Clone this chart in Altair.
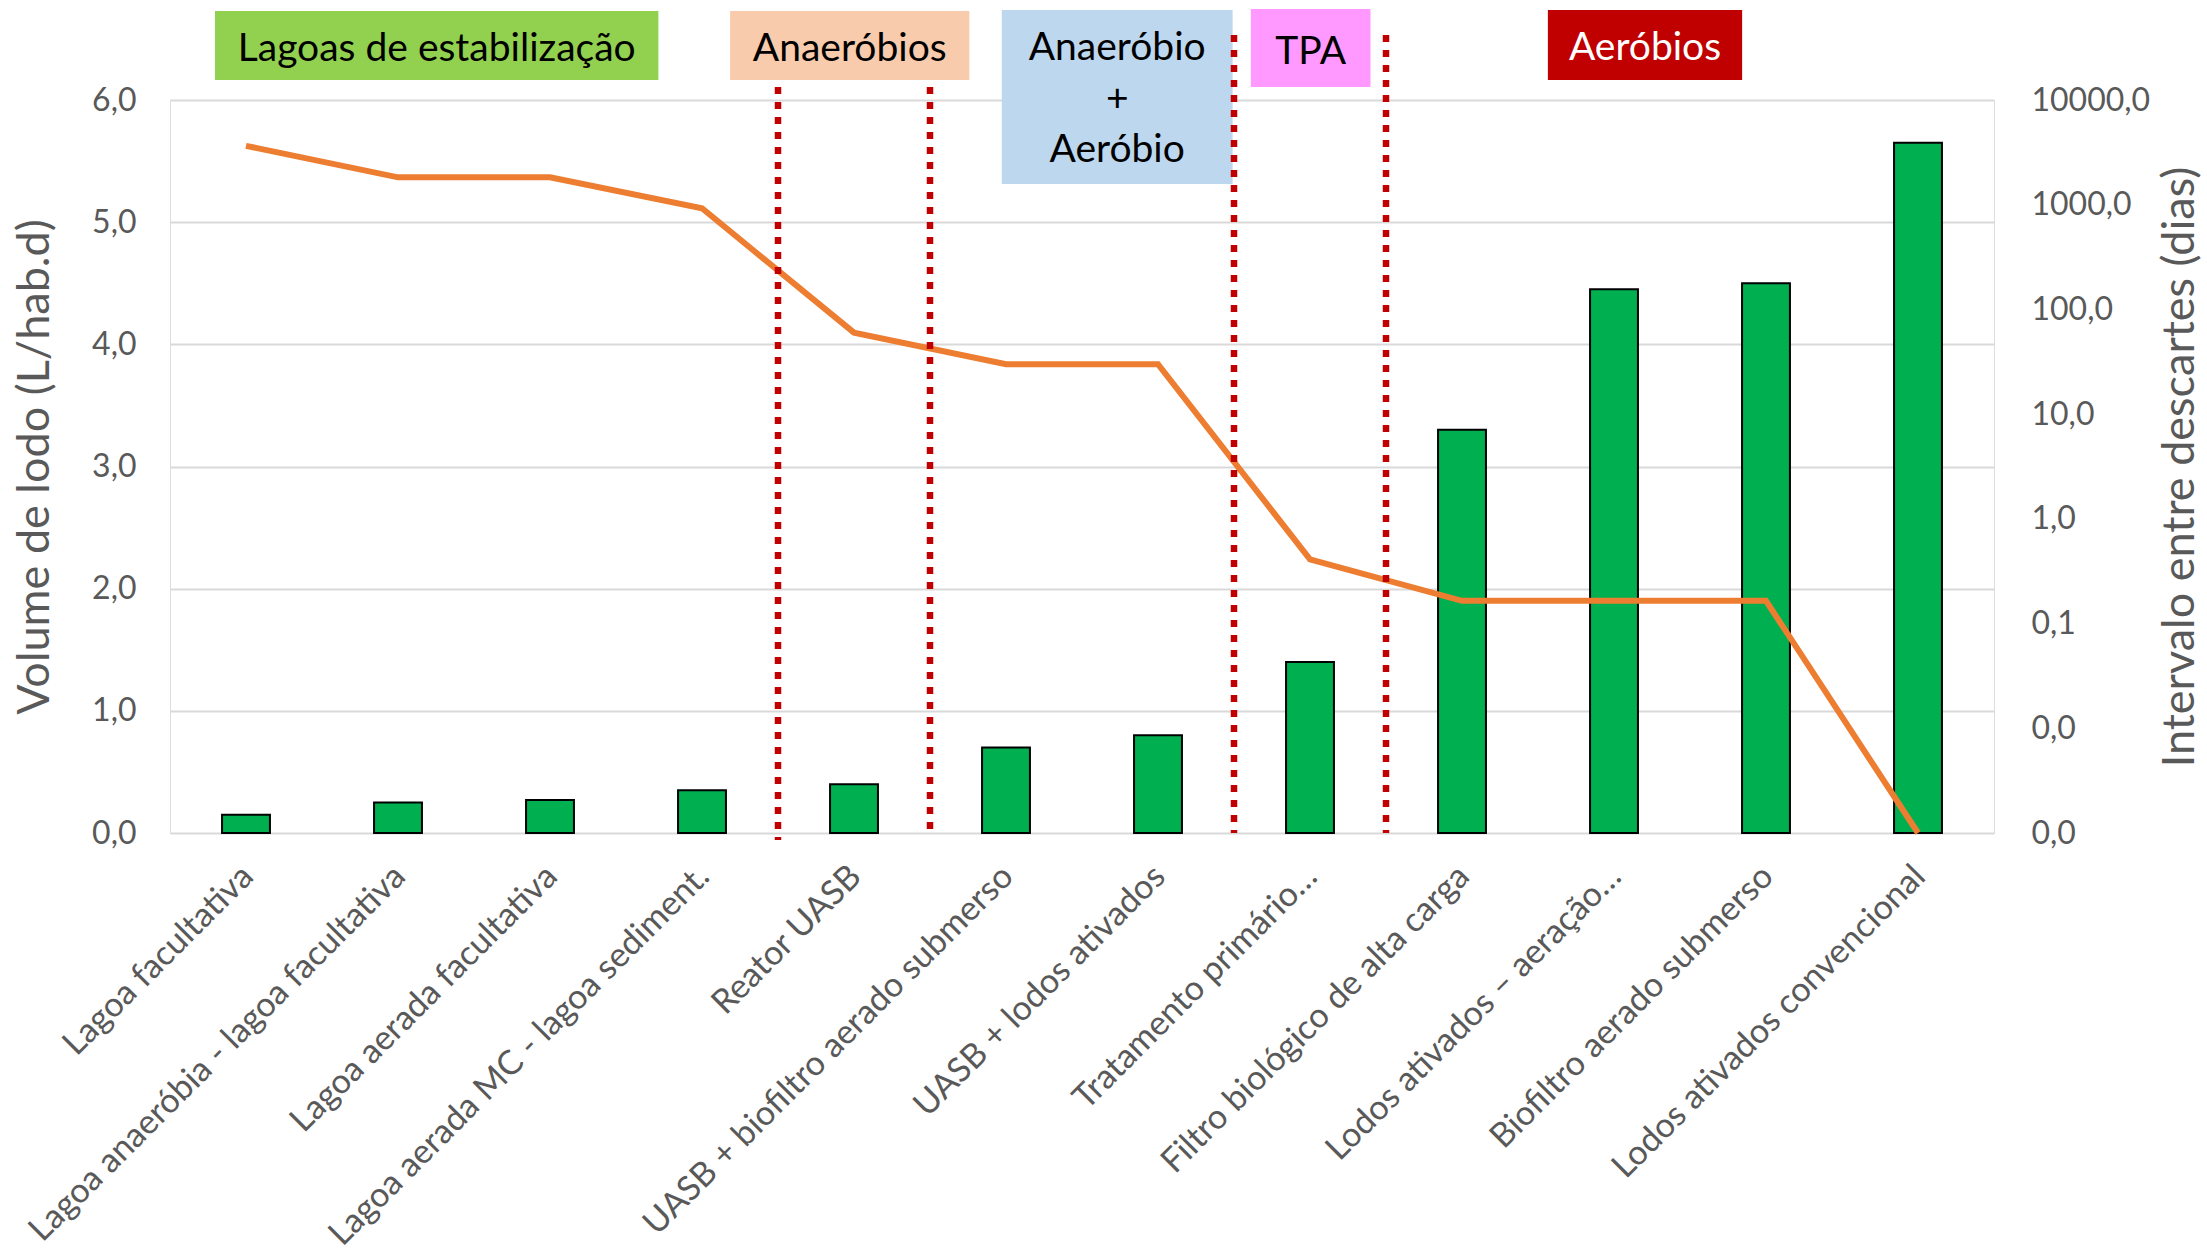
import altair as alt
import pandas as pd

# ---------------- data ----------------
categories = [
    "Lagoa facultativa",
    "Lagoa anaeróbia - lagoa facultativa",
    "Lagoa aerada facultativa",
    "Lagoa aerada MC - lagoa sediment.",
    "Reator UASB",
    "UASB + biofiltro aerado submerso",
    "UASB + lodos ativados",
    "Tratamento primário…",
    "Filtro biológico de alta carga",
    "Lodos ativados – aeração…",
    "Biofiltro aerado submerso",
    "Lodos ativados convencional",
]
volume = [0.15, 0.25, 0.27, 0.35, 0.40, 0.70, 0.80, 1.40, 3.30, 4.45, 4.50, 5.65]
interval = [3650, 1825, 1825, 925, 60, 30, 30, 0.41, 0.165, 0.165, 0.165, 0.001]

left_ticks = [0, 1, 2, 3, 4, 5, 6]
right_ticks = [0.001, 0.01, 0.1, 1, 10, 100, 1000, 10000]

group_labels = ["Lagoas de estabilização", "Anaeróbios", "Anaeróbio\n+\nAeróbio", "TPA", "Aeróbios"]
group_fill = ["#92D050", "#F8CBAD", "#BDD7EE", "#FF99FF", "#C00000"]
group_text_color = ["#000000", "#000000", "#000000", "#000000", "#FFFFFF"]
divider_after = [4, 5, 7, 8]  # boundaries between category groups (category index units)

# ---------------- layout ----------------
W, H = 1824, 733
FONT = "Lato"
GREY = "#595959"
df = pd.DataFrame({"cat": categories, "vol": volume, "dias": interval})

fmt = "replace(format(datum.value, '.1f'), '.', ',')"

xenc = alt.X(
    "cat:N",
    sort=categories,
    scale=alt.Scale(paddingInner=0.685, paddingOuter=0.3425),
    axis=alt.Axis(
        title=None, labelAngle=-45, labelAlign="right", labelBaseline="top",
        labelFontSize=34, labelFont=FONT, labelColor=GREY, labelPadding=26,
        labelLimit=2000, domain=False, ticks=False, grid=False, labelOffset=-10,
    ),
)

bars = alt.Chart(df).mark_bar(color="#00B050", stroke="#000000", strokeWidth=2).encode(
    x=xenc,
    y=alt.Y(
        "vol:Q",
        scale=alt.Scale(domain=[0, 6], nice=False),
        axis=alt.Axis(
            values=left_ticks, labelExpr=fmt, title="Volume de lodo (L/hab.d)",
            labelFontSize=32, labelFont=FONT, labelColor=GREY, labelPadding=34,
            titleFontSize=45, titleFont=FONT, titleColor=GREY, titleFontWeight="normal",
            titleAngle=270, titleX=-136, titleY=H / 2, titleAlign="center", titleBaseline="middle",
            domain=False, ticks=False, grid=True, gridColor="#D9D9D9", gridWidth=2,
        ),
    ),
)

line = alt.Chart(df).mark_line(color="#ED7D31", strokeWidth=6, strokeJoin="miter").encode(
    x=alt.X("cat:N", sort=categories),
    y=alt.Y(
        "dias:Q",
        scale=alt.Scale(type="log", domain=[0.001, 10000], nice=False),
        axis=alt.Axis(
            orient="right", values=right_ticks, labelExpr=fmt,
            title="Intervalo entre descartes (dias)",
            labelFontSize=32, labelFont=FONT, labelColor=GREY, labelPadding=37,
            titleFontSize=45, titleFont=FONT, titleColor=GREY, titleFontWeight="normal",
            titleAngle=270, titleX=185, titleY=H / 2, titleAlign="center", titleBaseline="middle",
            domain=False, ticks=False, grid=False,
        ),
    ),
)

main = alt.layer(bars, line).resolve_scale(y="independent")

# ---------------- annotations ----------------
boxes = pd.DataFrame({
    "label": group_labels,
    "fill": group_fill,
    "tcol": group_text_color,
    "x0": [0.296, 3.685, 5.472, 7.111, 9.065],
    "x1": [3.213, 5.259, 6.991, 7.898, 10.343],
    "y0": [-89, -89, -90, -91, -90],
    "y1": [-20, -20, 84, -13, -20],
    "ty": [-51, -51, -52, -48, -52],
})
boxes["xc"] = (boxes["x0"] + boxes["x1"]) / 2

xq = alt.Scale(domain=[0, 12], nice=False, zero=False)

rects = alt.Chart(boxes).mark_rect().encode(
    x=alt.X("x0:Q", scale=xq, axis=None),
    x2="x1:Q",
    y=alt.Y("y0:Q", scale=None),
    y2="y1:Q",
    fill=alt.Fill("fill:N", scale=None),
)

texts = alt.Chart(boxes).mark_text(
    font=FONT, fontSize=39, lineBreak="\n", lineHeight=51, align="center", baseline="middle"
).encode(
    x=alt.X("xc:Q", scale=xq, axis=None),
    y=alt.Y("ty:Q", scale=None),
    text="label:N",
    color=alt.Color("tcol:N", scale=None),
)

rules_df = pd.DataFrame({
    "pos": divider_after,
    "top": [-13, -13, -65, -65],
    "bot": [740, 730, 733, 733],
})
rules = alt.Chart(rules_df).mark_rule(color="#C00000", strokeWidth=6.5, strokeDash=[7, 8]).encode(
    x=alt.X("pos:Q", scale=xq, axis=None),
    y=alt.Y("top:Q", scale=None),
    y2="bot:Q",
)

annot = alt.layer(rects, texts, rules)

chart = alt.layer(main, annot).resolve_scale(x="independent", y="independent").properties(
    width=W, height=H,
    autosize=alt.AutoSizeParams(type="none"),
    padding={"left": 170, "top": 100, "right": 213, "bottom": 424},
).configure_view(stroke=None).configure(background="white")

chart.save("out.html", embed_options={"renderer": "svg", "actions": False})
